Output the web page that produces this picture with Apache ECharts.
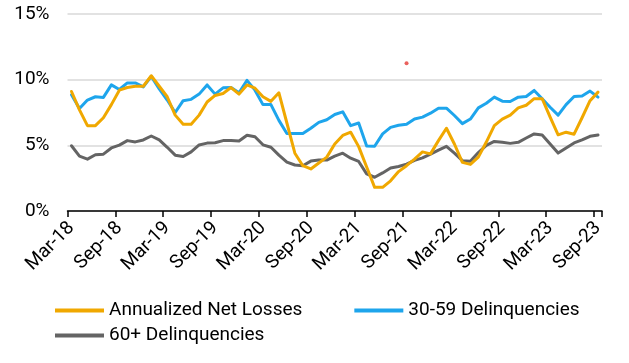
<!DOCTYPE html>
<html>
<head>
<meta charset="utf-8">
<script src="https://cdn.jsdelivr.net/npm/echarts@6/dist/echarts.min.js"></script>
<style>
html,body{margin:0;padding:0;background:#fff;}
#chart{width:629px;height:363px;}
</style>
</head>
<body>
<div id="chart"></div>
<script>
// Monthly categories Mar-18 .. Sep-23
const months = ['Jan','Feb','Mar','Apr','May','Jun','Jul','Aug','Sep','Oct','Nov','Dec'];
const categories = [];
for (let y = 18; y <= 23; y++) {
  for (let m = 0; m < 12; m++) {
    if (y === 18 && m < 2) continue;
    if (y === 23 && m > 8) continue;
    categories.push(months[m] + '-' + y);
  }
}

const seriesNames = ['Annualized Net Losses', '30-59 Delinquencies', '60+ Delinquencies'];

const netLosses = [
  9.1, 7.7, 6.5, 6.5, 7.1, 8.1, 9.2, 9.4, 9.5, 9.5,
  10.3, 9.5, 8.7, 7.3, 6.6, 6.6, 7.3, 8.3, 8.8, 8.95,
  9.4, 8.9, 9.6, 9.35, 8.7, 8.35, 9.0, 6.7, 4.4, 3.45,
  3.2, 3.65, 4.1, 5.1, 5.75, 6.0, 4.9, 3.35, 1.8, 1.8,
  2.3, 3.0, 3.45, 3.95, 4.5, 4.35, 5.36, 6.3, 5.1, 3.7,
  3.55, 4.1, 5.25, 6.5, 7.0, 7.3, 7.85, 8.05, 8.55, 8.55,
  7.15, 5.8, 6.0, 5.85, 7.1, 8.4, 9.05
];

const delinq3059 = [
  8.85, 7.8, 8.45, 8.7, 8.65, 9.6, 9.25, 9.75, 9.75, 9.45,
  10.25, 9.3, 8.45, 7.5, 8.4, 8.5, 8.9, 9.6, 8.9, 9.38,
  9.4, 9.0, 9.95, 9.2, 8.1, 8.1, 6.9, 5.9, 5.9, 5.9,
  6.3, 6.75, 6.95, 7.35, 7.55, 6.5, 6.7, 4.95, 4.93, 5.87,
  6.37, 6.53, 6.6, 7.0, 7.15, 7.45, 7.83, 7.83, 7.27, 6.65,
  7.0, 7.85, 8.2, 8.67, 8.36, 8.34, 8.67, 8.72, 9.18, 8.55,
  7.9, 7.3, 8.1, 8.72, 8.75, 9.13, 8.67
];

const delinq60 = [
  4.97, 4.18, 3.95, 4.28, 4.33, 4.8, 5.02, 5.36, 5.26, 5.41,
  5.71, 5.41, 4.85, 4.25, 4.15, 4.5, 5.03, 5.17, 5.2, 5.36,
  5.36, 5.33, 5.77, 5.65, 5.04, 4.85, 4.25, 3.72, 3.5, 3.45,
  3.8, 3.88, 3.88, 4.18, 4.4, 4.02, 3.77, 2.83, 2.57, 2.9,
  3.27, 3.39, 3.57, 3.85, 4.05, 4.33, 4.64, 4.92, 4.4, 3.83,
  3.78, 4.45, 5.0, 5.3, 5.23, 5.15, 5.23, 5.56, 5.87, 5.79,
  5.1, 4.41, 4.8, 5.18, 5.41, 5.69, 5.79
];

// stray red marker visible in the reference
const markerPoint = [['Sep-21', 11.25]];

const yTicks = [0, 5, 10, 15];

const colors = ['#F0A800', '#1EA5EC', '#646464'];
const font = 'Roboto';

const chart = echarts.init(document.getElementById('chart'), null, {renderer: 'canvas'});

const lineSeries = (name, data, color) => ({
  name: name,
  type: 'line',
  data: data,
  showSymbol: false,
  symbol: 'none',
  smooth: false,
  lineStyle: {width: 3, color: color, cap: 'round', join: 'round'},
  itemStyle: {color: color},
  emphasis: {disabled: true},
  animation: false
});

chart.setOption({
  animation: false,
  backgroundColor: '#ffffff',
  grid: {left: 67.5, right: 27, top: 14, bottom: 152, containLabel: false},
  legend: [
    {
      data: [seriesNames[0], seriesNames[1]],
      left: 50, top: 296,
      icon: 'rect', itemWidth: 49, itemHeight: 4, itemGap: 52,
      textStyle: {fontFamily: font, fontSize: 19, color: '#000'},
      selectedMode: false
    },
    {
      data: [seriesNames[2]],
      left: 50, top: 321,
      icon: 'rect', itemWidth: 49, itemHeight: 4,
      textStyle: {fontFamily: font, fontSize: 19, color: '#000'},
      selectedMode: false
    }
  ],
  xAxis: {
    type: 'category',
    data: categories,
    boundaryGap: true,
    axisLine: {show: true, lineStyle: {color: '#000', width: 1.5}},
    axisTick: {show: true, interval: 5, length: 6, lineStyle: {color: '#000', width: 1.5}},
    axisLabel: {
      interval: 5, rotate: 45, margin: 14,
      fontFamily: font, fontSize: 19, color: '#000'
    },
    splitLine: {show: false}
  },
  yAxis: {
    type: 'value',
    min: yTicks[0], max: yTicks[yTicks.length - 1], interval: 5,
    axisLine: {show: false},
    axisTick: {show: false},
    axisLabel: {
      margin: 18, fontFamily: font, fontSize: 19, color: '#000',
      formatter: v => v + '%'
    },
    splitLine: {show: true, lineStyle: {color: '#D9D9D9', width: 1.5}}
  },
  series: [
    lineSeries(seriesNames[1], delinq3059, colors[1]),
    lineSeries(seriesNames[2], delinq60, colors[2]),
    lineSeries(seriesNames[0], netLosses, colors[0]),
    {
      name: 'marker', type: 'scatter', data: markerPoint,
      symbolSize: 4, itemStyle: {color: '#E53935'}, silent: true, z: 5
    }
  ]
});
</script>
</body>
</html>
